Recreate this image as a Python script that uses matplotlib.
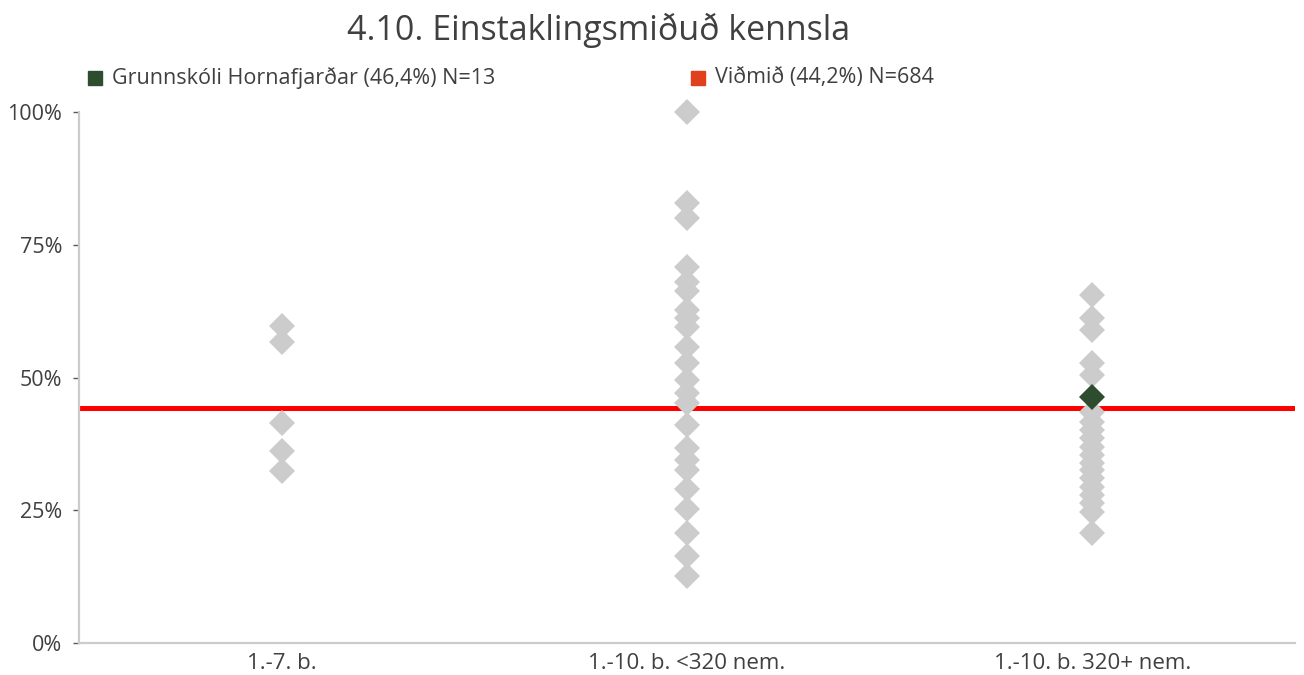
import matplotlib
matplotlib.use("Agg")
import matplotlib.pyplot as plt
from matplotlib.patches import Rectangle

plt.rcParams["font.family"] = ["Open Sans", "DejaVu Sans"]

TITLE      = "4.10. Einstaklingsmiðuð kennsla"
CATEGORIES = ["1.-7. b.", "1.-10. b. <320 nem.", "1.-10. b. 320+ nem."]
Y_TICKS    = [0, 0.25, 0.5, 0.75, 1.0]
Y_LABELS   = ["0%", "25%", "50%", "75%", "100%"]

# school results (share) per group
GROUP_1 = [0.597, 0.566, 0.414, 0.361, 0.324]
GROUP_2 = [1.0, 0.829, 0.800, 0.709, 0.680, 0.662, 0.627, 0.612, 0.596, 0.558,
           0.527, 0.495, 0.471, 0.452, 0.411, 0.367, 0.345, 0.326, 0.290,
           0.252, 0.207, 0.164, 0.126]
GROUP_3 = [0.655, 0.612, 0.589, 0.527, 0.505, 0.435, 0.416, 0.401, 0.386,
           0.369, 0.354, 0.339, 0.326, 0.311, 0.294, 0.279, 0.264, 0.247, 0.207]

SCHOOL_GROUP = 2
SCHOOL_VALUE = 0.464
BENCHMARK    = 0.442

LEGEND_SCHOOL = "Grunnskóli Hornafjarðar (46,4%) N=13"
LEGEND_BENCH  = "Viðmið (44,2%) N=684"

GREY   = "#CCCCCC"
GREEN  = "#2E4D2E"
RED    = "#FF0000"
ORANGE = "#E0401C"
TEXT   = "#404040"

fig = plt.figure(figsize=(13.04, 6.75), dpi=100)
ax = fig.add_axes([79 / 1304, 32 / 675, 1216 / 1304, 531 / 675])

ax.axhline(BENCHMARK, color=RED, linewidth=3.6, zorder=1)

for i, vals in enumerate([GROUP_1, GROUP_2, GROUP_3]):
    ax.plot([i] * len(vals), vals, linestyle="none", marker="D",
            markersize=13.5, markeredgewidth=0, color=GREY, zorder=2,
            clip_on=False)

ax.plot([SCHOOL_GROUP], [SCHOOL_VALUE], linestyle="none", marker="D",
        markersize=13.5, markeredgewidth=0, color=GREEN, zorder=3)

ax.set_xlim(-0.5, 2.5)
ax.set_ylim(0, 1)
ax.set_xticks(range(len(CATEGORIES)))
ax.set_xticklabels(CATEGORIES)
ax.set_yticks(Y_TICKS)
ax.set_yticklabels(Y_LABELS)

for side in ["top", "right"]:
    ax.spines[side].set_visible(False)
for side in ["left", "bottom"]:
    ax.spines[side].set_color(GREY)
    ax.spines[side].set_linewidth(1.6)

ax.tick_params(axis="x", length=0, pad=7, labelsize=16, labelcolor=TEXT)
ax.tick_params(axis="y", length=4, width=1, color="#595959", pad=8,
               labelsize=15.5, labelcolor=TEXT)

fig.text(599 / 1304, 1 - 30 / 675, TITLE, ha="center", va="center",
         fontsize=24.5, color=TEXT)

# legend drawn by hand to keep the wide gap between the two entries
sq_w, sq_h = 14 / 1304, 14 / 675
fig.add_artist(Rectangle((88 / 1304, 1 - 85 / 675), sq_w, sq_h,
                         transform=fig.transFigure, color=GREEN))
fig.text(112 / 1304, 1 - 78 / 675, LEGEND_SCHOOL, ha="left", va="center",
         fontsize=15.5, color=TEXT)
fig.add_artist(Rectangle((691 / 1304, 1 - 85 / 675), sq_w, sq_h,
                         transform=fig.transFigure, color=ORANGE))
fig.text(715 / 1304, 1 - 78 / 675, LEGEND_BENCH, ha="left", va="center",
         fontsize=15.5, color=TEXT)

fig.savefig("out.png", dpi=100)
